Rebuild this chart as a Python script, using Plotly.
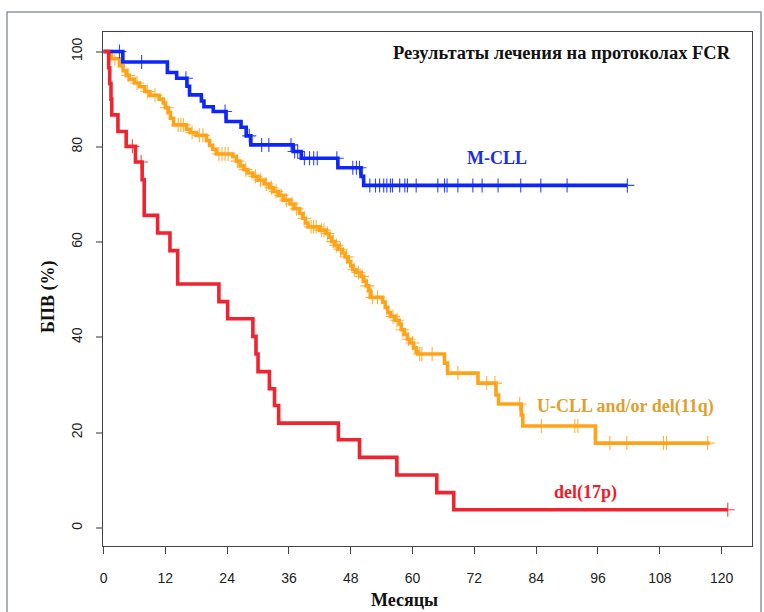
import numpy as np
import plotly.graph_objects as go

# ---------------- data ----------------
months_ticks = [0, 12, 24, 36, 48, 60, 72, 84, 96, 108, 120]
pct_ticks = [0, 20, 40, 60, 80, 100]

# M-CLL (blue)
mcll_t = [0, 3.75, 12.4, 14.2, 16.2, 16.7, 19.0, 19.5, 21.3, 23.8, 26.7, 27.7, 28.6,
          36.8, 38.4, 45.5, 50.0, 50.5]
mcll_s = [100, 97.8, 95.6, 94.4, 92.7, 90.9, 89.6, 88.4, 87.4, 85.3, 84.1, 82.3, 80.4,
          79.0, 77.6, 75.6, 73.8, 71.9]
mcll_end = 101.7
mcll_cens = [3.1, 7.4, 16.0, 23.6, 28.3, 30.7, 32.1, 36.4, 37.1, 37.7, 39.0, 40.0, 40.8,
             41.5, 45.3, 48.4, 49.1, 49.7, 51.7, 52.8, 53.6, 54.4, 55.0, 55.7, 56.1, 57.5,
             58.5, 59.0, 60.7, 64.9, 66.2, 66.7, 68.8, 71.7, 73.5, 76.6, 81.0, 84.9, 90.0,
             101.7]

# U-CLL and/or del(11q) (orange)
ucll_t = [0, 1.5, 3.1, 3.8, 4.4, 5.0, 6.0, 7.0, 8.0, 9.0, 10.8, 11.6, 12.0, 12.6, 13.0,
          13.6, 16.1, 16.8, 18.0, 20.0, 20.6, 21.2, 21.9, 25.1, 25.8, 26.5, 27.2, 28.0,
          29.0, 30.0, 31.2, 32.2, 33.0, 34.0, 35.0, 36.2, 37.0, 38.1, 38.7, 39.2, 39.7,
          41.9, 43.2, 43.8, 44.3, 44.9, 45.6, 46.4, 46.9, 47.5, 48.0, 48.4, 49.0, 50.0,
          50.5, 51.0, 51.5, 51.8, 54.2, 54.7, 55.2, 55.7, 56.6, 57.4, 57.8, 58.4, 59.0,
          59.5, 60.2, 60.7, 61.0, 66.2, 66.8, 72.7, 76.2, 76.7, 81.1, 81.4, 95.5]
ucll_s = [100, 98.5, 97.0, 96.0, 95.0, 94.2, 93.4, 92.6, 91.6, 90.8, 90.0, 89.2, 88.2,
          87.2, 86.0, 84.6, 83.7, 83.0, 82.4, 81.3, 80.3, 79.5, 78.5, 77.9, 77.0, 76.0,
          75.2, 74.5, 73.8, 73.0, 72.2, 71.4, 70.6, 69.8, 68.8, 68.0, 67.0, 66.0, 65.0,
          64.0, 63.2, 62.5, 61.8, 61.0, 60.1, 59.3, 58.5, 57.7, 56.9, 55.9, 55.0, 54.2,
          53.6, 52.8, 51.8, 50.8, 49.9, 48.4, 47.4, 46.3, 45.2, 44.4, 43.6, 42.8, 41.6,
          40.6, 39.6, 38.8, 37.8, 37.0, 36.5, 34.6, 32.5, 30.4, 27.9, 26.0, 23.7, 21.4,
          17.8]
ucll_end = 117.7
ucll_cens = [2.2, 4.8, 6.5, 8.5, 10.0, 12.3, 14.5, 15.0, 15.5, 17.2, 18.6, 19.3, 22.4,
             23.0, 23.6, 24.2, 26.0, 27.6, 29.5, 30.5, 31.6, 32.6, 33.5, 34.5, 35.5, 36.6,
             37.5, 39.0, 40.3, 40.8, 41.3, 42.3, 42.8, 43.5, 44.6, 45.2, 46.0, 47.2, 48.7,
             49.5, 50.2, 51.2, 52.2, 53.2, 56.2, 57.0, 58.0, 59.2, 60.0, 61.4, 61.8, 63.8,
             68.8, 74.4, 76.0, 80.8, 85.0, 91.5, 92.1, 98.3, 101.6, 108.7, 109.3, 117.3]

# del(17p) (red)
d17_t = [0, 1.0, 1.2, 1.45, 1.6, 2.8, 4.4, 6.2, 7.5, 7.9, 10.5, 12.9, 14.4, 22.4, 24.1,
         29.0, 29.6, 30.0, 32.2, 33.2, 34.0, 45.6, 49.7, 56.95, 64.7, 68.0]
d17_s = [100, 96.6, 93.3, 90.0, 86.7, 83.2, 80.1, 76.8, 73.1, 65.6, 61.9, 58.2, 51.2,
         47.5, 43.9, 40.2, 36.5, 32.8, 29.2, 25.7, 22.0, 18.5, 14.8, 11.1, 7.4, 3.8]
d17_end = 121.2
d17_cens = [5.6, 7.3, 121.2]

title_text = "Результаты лечения на протоколах FCR"
x_title = "Месяцы"
y_title = "БПВ (%)"

# ---------------- style ----------------
BLUE = "#0D27FA"
ORANGE = "#FFA418"
RED = "#EE2530"
SERIF = "Liberation Serif, Times New Roman, serif"
SANS = "Liberation Sans, Arial, sans-serif"


def step_value(ts, ss, x):
    ts = np.asarray(ts)
    ss = np.asarray(ss)
    idx = np.searchsorted(ts, x, side="right") - 1
    return ss[np.clip(idx, 0, len(ss) - 1)]


fig = go.Figure()


def add_curve(ts, ss, end, cens, color):
    xs = list(ts) + [end]
    ys = list(ss) + [ss[-1]]
    fig.add_trace(go.Scatter(x=xs, y=ys, mode="lines", line=dict(color=color, width=3.6, shape="hv"),
                             hoverinfo="skip", showlegend=False))
    cy = [float(step_value(ts, ss, c)) for c in cens]
    fig.add_trace(go.Scatter(x=cens, y=cy, mode="markers",
                             marker=dict(symbol="cross-thin", size=10, color=color, opacity=0.85,
                                         line=dict(color=color, width=1.1)),
                             hoverinfo="skip", showlegend=False))


add_curve(ucll_t, ucll_s, ucll_end, ucll_cens, ORANGE)
add_curve(mcll_t, mcll_s, mcll_end, mcll_cens, BLUE)
add_curve(d17_t, d17_s, d17_end, d17_cens, RED)

annots = [
    dict(x=89.0, y=99.7, text="<b>" + title_text + "</b>", color="#111111", size=18.5),
    dict(x=76.3, y=77.7, text="<b>M-CLL</b>", color="#1A2EE8", size=18),
    dict(x=101.3, y=25.4, text="<b>U-CLL and/or del(11q)</b>", color="#E09F2E", size=18),
    dict(x=93.6, y=7.4, text="<b>del(17p)</b>", color="#EE1C2A", size=18),
]
for a in annots:
    fig.add_annotation(x=a["x"], y=a["y"], xref="x", yref="y", text=a["text"], showarrow=False,
                       font=dict(family=SERIF, size=a["size"], color=a["color"]),
                       xanchor="center", yanchor="middle")

# axis titles
fig.add_annotation(x=(404 - 103) / 649, y=(546 - 600) / 514, xref="paper", yref="paper",
                   text="<b>" + x_title + "</b>", showarrow=False,
                   font=dict(family=SERIF, size=18, color="#111111"),
                   xanchor="center", yanchor="middle")
fig.add_annotation(x=(48 - 103) / 649, y=(546 - 297) / 514, xref="paper", yref="paper",
                   text="<b>" + y_title + "</b>", showarrow=False, textangle=-90,
                   font=dict(family=SERIF, size=18, color="#111111"),
                   xanchor="center", yanchor="middle")

# outer frame
fig.add_shape(type="rect", xref="paper", yref="paper",
              x0=(7 - 103) / 649, x1=(761 - 103) / 649,
              y0=(546 - 640) / 514, y1=(546 - 12) / 514,
              line=dict(color="#8C96A8", width=1.5), fillcolor="rgba(0,0,0,0)", layer="below")

fig.update_layout(
    width=764, height=612,
    margin=dict(l=103, r=12, t=32, b=66),
    paper_bgcolor="white", plot_bgcolor="white",
    showlegend=False,
    xaxis=dict(range=[-0.1, 125.9], tickvals=months_ticks, ticktext=[str(v) for v in months_ticks],
               showgrid=False, zeroline=False, showline=True, mirror=True, linecolor="#444444",
               linewidth=1, ticks="outside", ticklen=7, tickwidth=1, tickcolor="#444444",
               tickfont=dict(family=SANS, size=14, color="#222222"), ticklabelstandoff=12),
    yaxis=dict(range=[-3.8, 104.1], tickvals=pct_ticks, ticktext=[str(v) for v in pct_ticks],
               showgrid=False, zeroline=False, showline=True, mirror=True, linecolor="#444444",
               linewidth=1, ticks="outside", ticklen=6, tickwidth=2, tickcolor="#999999",
               tickangle=-90,
               tickfont=dict(family=SANS, size=14, color="#222222"), ticklabelstandoff=8),
)

fig.write_html("out.html", config={"displayModeBar": False},
               post_script="document.body.style.margin='0px';document.body.style.overflow='hidden';")
